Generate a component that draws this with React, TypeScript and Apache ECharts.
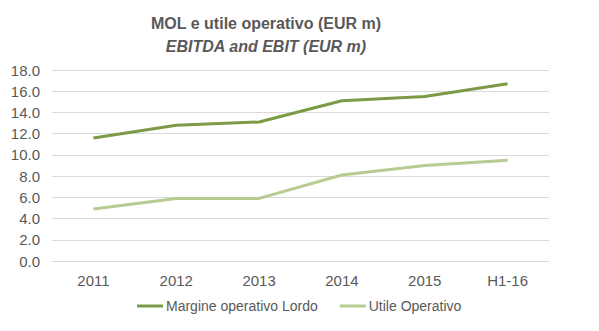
import React, { useEffect, useRef } from "react";
import * as echarts from "echarts";

const categories = ["2011", "2012", "2013", "2014", "2015", "H1-16"];
const margineValues = [11.6, 12.8, 13.1, 15.1, 15.5, 16.7];
const utileValues = [4.9, 5.9, 5.9, 8.1, 9.0, 9.5];
const seriesNames = ["Margine operativo Lordo", "Utile Operativo"];
const titleText = "MOL e utile operativo (EUR m)";
const subtitleText = "EBITDA and EBIT (EUR m)";

const FONT = "'Liberation Sans', Arial, sans-serif";

export default function App() {
  const ref = useRef<HTMLDivElement>(null);
  useEffect(() => {
    if (!ref.current) return;
    const chart = echarts.init(ref.current, undefined, { renderer: "svg" });
    chart.setOption({
      animation: false,
      backgroundColor: "#ffffff",
      title: [
        {
          text: titleText,
          left: 261,
          top: 10,
          textAlign: "center",
          textStyle: { fontFamily: FONT, fontSize: 16, fontWeight: "bold", color: "#595959" },
        },
        {
          text: subtitleText,
          left: 261,
          top: 33,
          textAlign: "center",
          textStyle: { fontFamily: FONT, fontSize: 16, fontWeight: "bold", fontStyle: "italic", color: "#595959" },
        },
      ],
      legend: {
        bottom: 13,
        left: 132,
        itemWidth: 26,
        itemHeight: 3,
        itemGap: 22,
        icon: "rect",
        textStyle: { fontFamily: FONT, fontSize: 14, color: "#595959", padding: [0, 0, 0, -2] },
        data: seriesNames,
      },
      grid: { left: 52, right: 50, top: 70, bottom: 70 },
      xAxis: {
        type: "category",
        data: categories,
        boundaryGap: true,
        axisLine: { lineStyle: { color: "#d9d9d9" } },
        axisTick: { show: false },
        axisLabel: { fontFamily: FONT, fontSize: 15, color: "#595959", margin: 12 },
      },
      yAxis: {
        type: "value",
        min: 0,
        max: 18,
        interval: 2,
        axisLine: { show: false },
        axisTick: { show: false },
        splitLine: { lineStyle: { color: "#d9d9d9" } },
        axisLabel: {
          fontFamily: FONT,
          fontSize: 15,
          color: "#595959",
          margin: 12,
          formatter: (v: number) => v.toFixed(1),
        },
      },
      series: [
        {
          name: seriesNames[0],
          type: "line",
          data: margineValues,
          showSymbol: false,
          symbol: "none",
          lineStyle: { color: "#7b9a45", width: 3 },
          itemStyle: { color: "#7b9a45" },
        },
        {
          name: seriesNames[1],
          type: "line",
          data: utileValues,
          showSymbol: false,
          symbol: "none",
          lineStyle: { color: "#b8cc91", width: 3 },
          itemStyle: { color: "#b8cc91" },
        },
      ],
    });
    return () => chart.dispose();
  }, []);
  return <div ref={ref} style={{ width: 599, height: 331, position: "absolute", left: 0, top: 0 }} />;
}
